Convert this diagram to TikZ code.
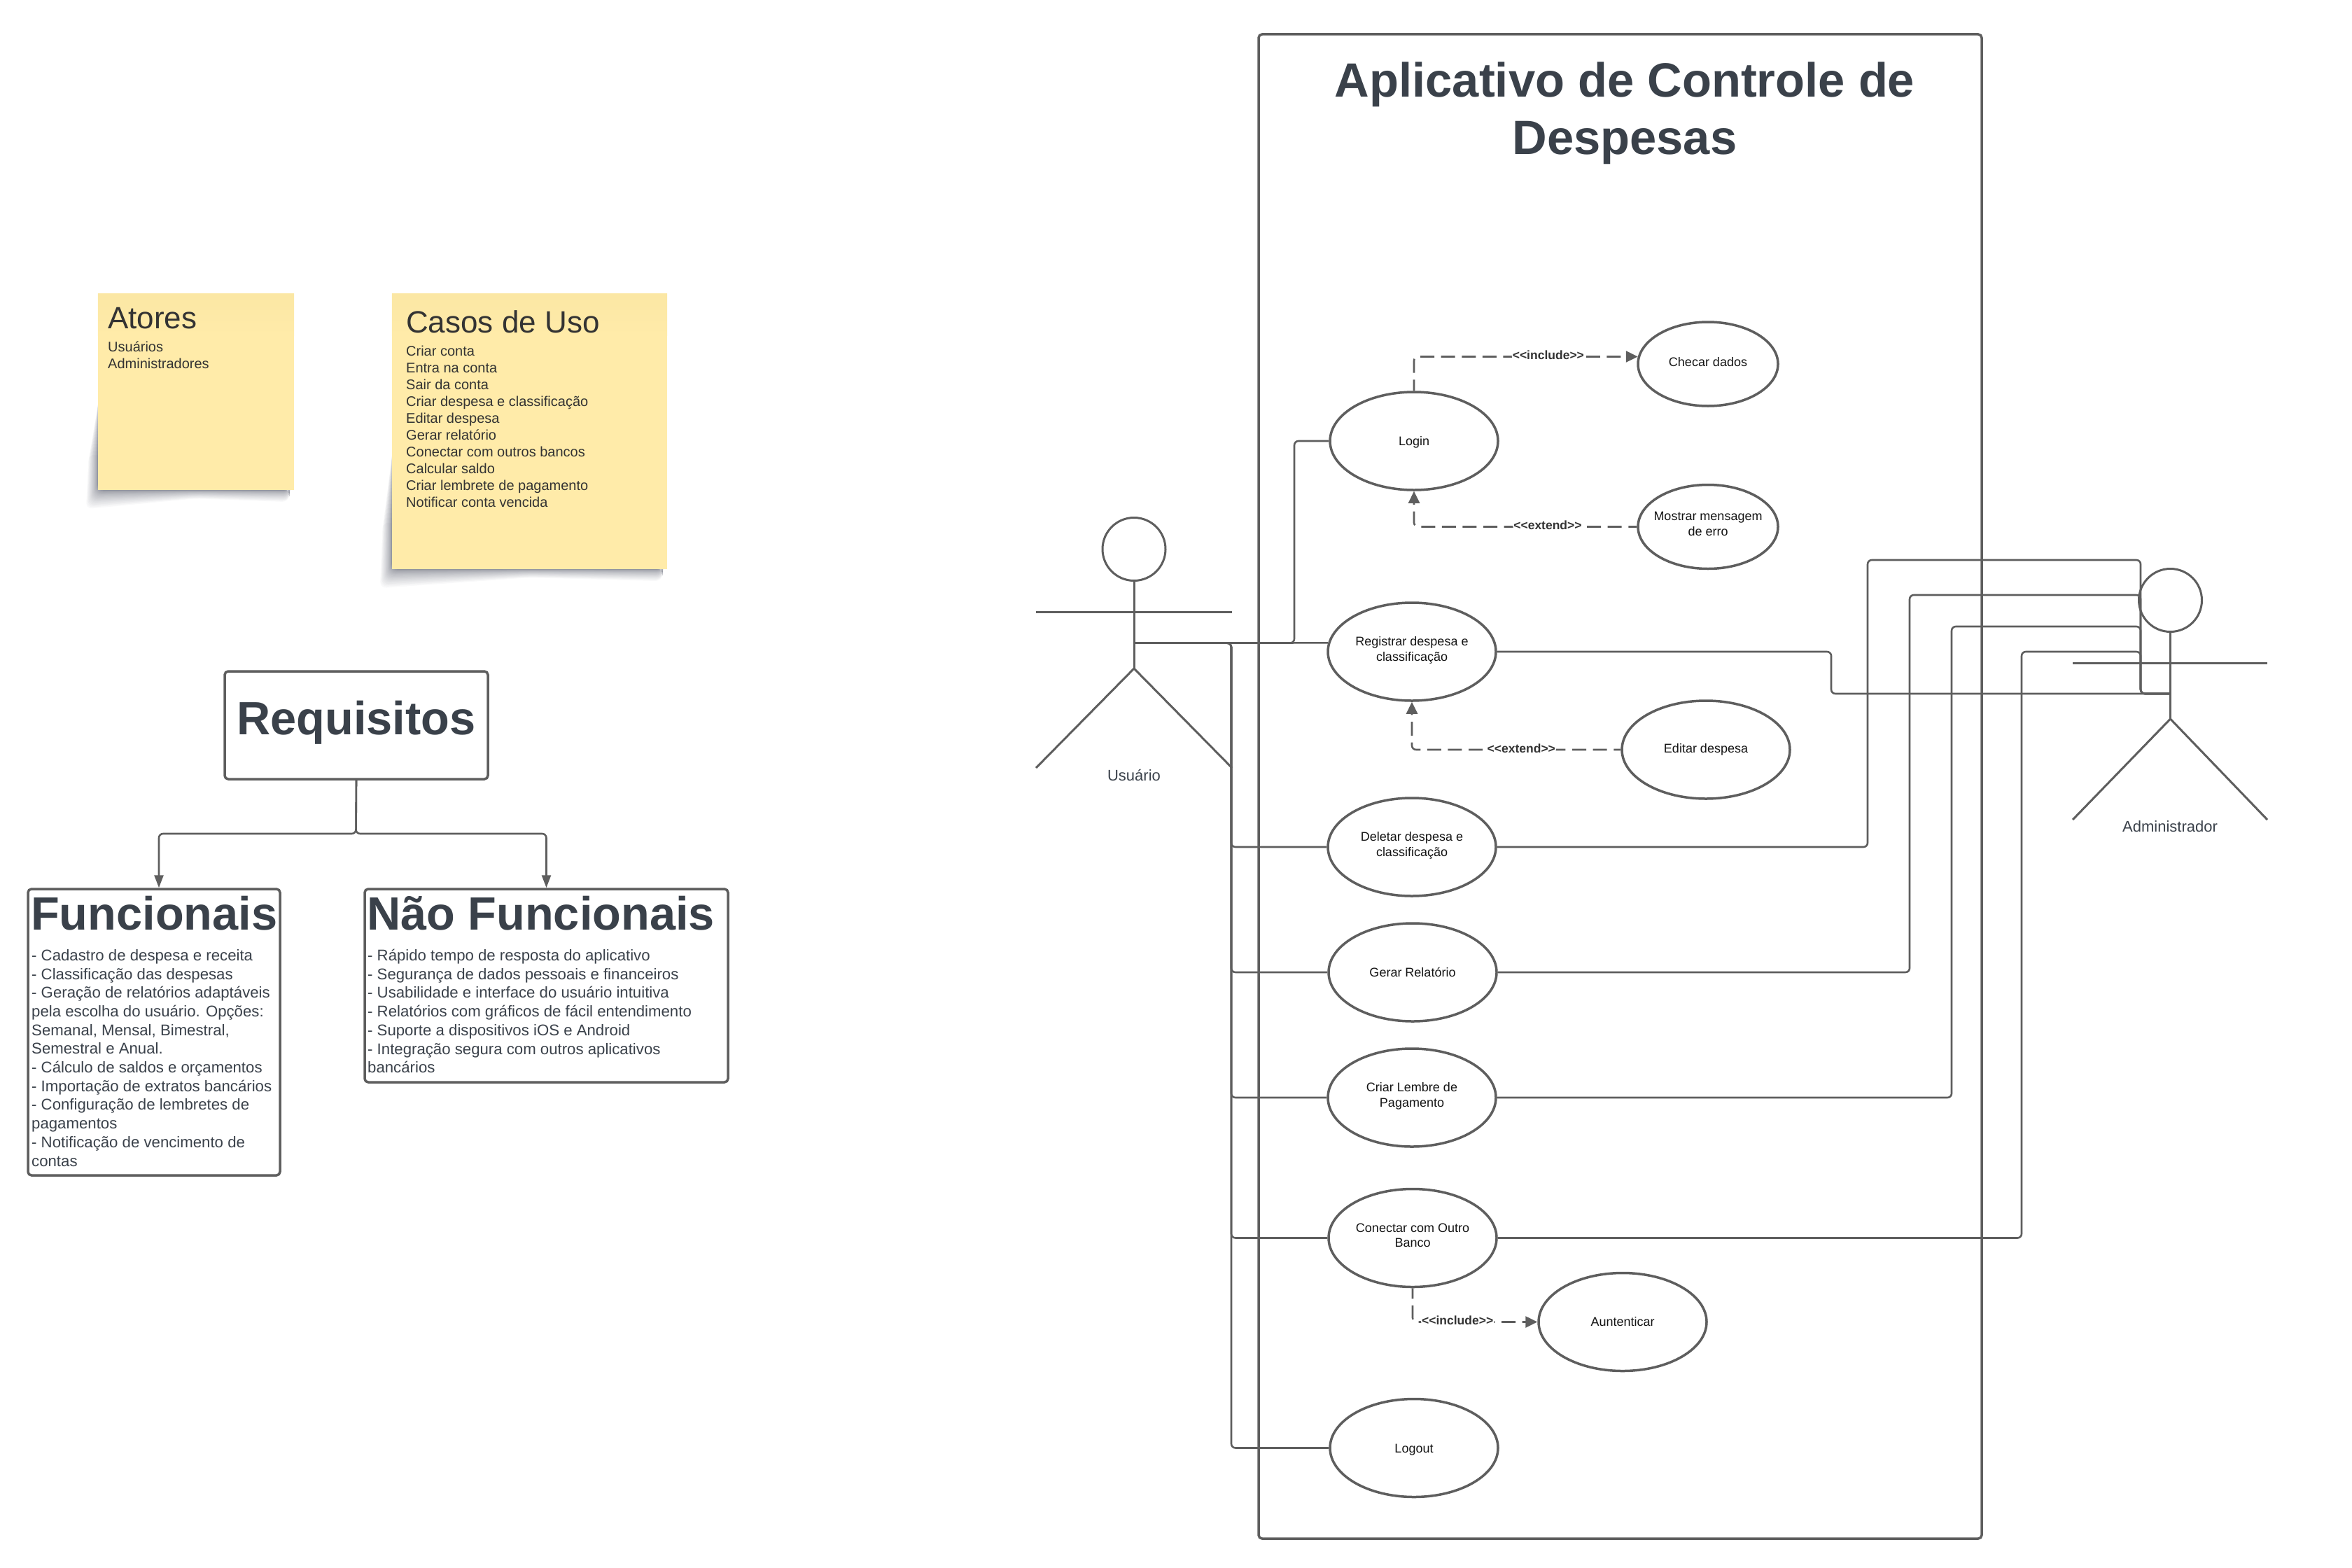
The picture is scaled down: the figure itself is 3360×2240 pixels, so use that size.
\documentclass[tikz,border=0pt]{standalone}
\usepackage{fontspec}
\setmainfont{Liberation Sans}
\usetikzlibrary{arrows.meta, positioning, shapes.geometric, backgrounds}
\definecolor{linegray}{HTML}{5E5E5E}
\definecolor{inktext}{HTML}{3A414A}
\definecolor{notetext}{HTML}{333333}
\definecolor{notelight}{HTML}{FFEBA9}
\definecolor{notedark}{HTML}{FBE7A4}
\definecolor{shadowtint}{HTML}{2F3345}
\newcommand{\lift}{\rule[-8pt]{0pt}{8pt}}
\newcommand{\drop}{\rule{0pt}{17pt}}
\newcommand{\noteshadow}[2]{\foreach \s [evaluate=\s as \t using {(1-\s/30)^2.2}] in {0,...,29}
  \fill[shadowtint, opacity=.028, rounded corners=9pt] ([shift={(-13*\t,{-#2*(1-.6*\t)})}]#1.south west) -- ([shift={(-17*\t,27*\t)}]#1.south west) -- ([shift={(0,12*\t)}]#1.south) -- ([shift={(-6-2*\t,17*\t)}]#1.south east) -- ([xshift=-6pt]#1.south east) -- cycle;}
\newcommand{\notetop}[1]{\fill[top color=notedark, bottom color=notelight] (#1.north west) rectangle ([yshift=-60pt]#1.north east);}
\tikzset{
  note/.style={fill=notelight, inner sep=0pt},
  notehead/.style={text=notetext, inner sep=0pt, font=\fontsize{44}{53}\selectfont},
  notebody/.style={text=notetext, inner sep=0pt, align=left, font=\fontsize{20}{24}\selectfont},
  reqbox/.style={draw=linegray, line width=3.5pt, rounded corners=5pt, fill=white, inner sep=0pt},
  reqhead/.style={text=inktext, inner sep=0pt, font=\fontsize{66.7}{80}\selectfont\bfseries},
  reqbody/.style={text=inktext, inner sep=0pt, align=left, font=\fontsize{22.2}{26.7}\selectfont},
  usecase/.style={draw=linegray, line width=3.5pt, ellipse, minimum width=240pt, minimum height=140pt, inner xsep=-10pt, inner ysep=0pt, align=center, text=black!92, font=\fontsize{18}{21.6}\selectfont},
  smallcase/.style={usecase, minimum width=200pt, minimum height=120pt},
  limb/.style={draw=linegray, line width=3pt},
  actorname/.style={text=inktext, inner sep=0pt, font=\fontsize{22}{26}\selectfont},
  wire/.style={draw=linegray, line width=2.6pt, rounded corners=6pt},
  depend/.style={wire, dash pattern=on 20pt off 9.6pt, dash phase=#1, -{Triangle[length=17pt, width=16pt]}},
  dashlabel/.style={fill=white, inner sep=1pt, text=notetext, font=\fontsize{17.5}{21}\selectfont\bfseries, yshift=2pt},
  reqarrow/.style={wire, -{Triangle[length=18pt, width=13pt]}}
}
\begin{document}
\begin{tikzpicture}[x=1pt, y=-1pt]
\useasboundingbox (0,0) rectangle (3360,2240);

\node[note, minimum width=280pt, minimum height=280pt] (atores) at (280,560) {};
\node[note, minimum width=393pt, minimum height=393pt] (casos) at (756.5,616.5) {};
\begin{scope}[on background layer]
\noteshadow{atores}{130}
\noteshadow{casos}{170}
\end{scope}
\notetop{atores}
\notetop{casos}
\node[notehead, anchor=base west] (atorestitle) at (154,469) {Atores};
\node[notebody, anchor=north west] (atoreslist) at (154,488) {Usuários\\Administradores};
\node[notehead, anchor=base west] (casostitle) at (580,475) {Casos de Uso};
\node[notebody, anchor=north west] (casoslist) at (580,494) {Criar conta\\Entra na conta\\Sair da conta\\Criar despesa e classificação\\Editar despesa\\Gerar relatório\\Conectar com outros bancos\\Calcular saldo\\Criar lembrete de pagamento\\Notificar conta vencida};

\node[reqbox, minimum width=376pt, minimum height=154pt] (req) at (509,1036) {};
\node[reqhead, anchor=base] (reqtitle) at (509,1049) {Requisitos};
\node[reqbox, minimum width=360pt, minimum height=409pt] (fun) at (220,1474.5) {};
\node[reqhead, anchor=base west] (funtitle) at (44,1328) {Funcionais};
\node[reqbody, anchor=north west] (funlist) at (45,1356) {- Cadastro de despesa e receita\\- Classificação das despesas\\- Geração de relatórios adaptáveis\\pela escolha do usuário. Opções:\\Semanal, Mensal, Bimestral,\\Semestral e Anual.\\- Cálculo de saldos e orçamentos\\- Importação de extratos bancários\\- Configuração de lembretes de\\pagamentos\\- Notificação de vencimento de\\contas};
\node[reqbox, minimum width=519pt, minimum height=276pt] (nfun) at (780.5,1408) {};
\node[reqhead, anchor=base west] (nfuntitle) at (524,1328) {Não Funcionais};
\node[reqbody, anchor=north west] (nfunlist) at (525,1356) {- Rápido tempo de resposta do aplicativo\\- Segurança de dados pessoais e financeiros\\- Usabilidade e interface do usuário intuitiva\\- Relatórios com gráficos de fácil entendimento\\- Suporte a dispositivos iOS e Android\\- Integração segura com outros aplicativos\\bancários};

\coordinate (split) at (508.5,1191);
\draw[reqarrow] (req.south) -- (split) -| ([xshift=7pt]fun.north);
\draw[reqarrow] (req.south) -- (split) -| (nfun.north);

\node[draw=linegray, line width=3.5pt, rounded corners=5pt, minimum width=1033pt, minimum height=2149pt, inner sep=0pt] (system) at (2314.5,1123.5) {};
\node[inner sep=0pt, align=center, text=inktext, font=\fontsize{68.7}{81.6}\selectfont\bfseries, anchor=north] (systemtitle) at (2321,89) {Aplicativo de Controle de\\Despesas};

\node[usecase] (login) at (2020,630) {\drop Login};
\node[smallcase] (checar) at (2440,520) {Checar dados\rule[-7pt]{0pt}{7pt}};
\node[smallcase] (mostrar) at (2440,752.5) {Mostrar mensagem\\de erro\lift};
\node[usecase] (registrar) at (2017,931) {Registrar despesa e\\classificação\lift};
\node[usecase] (editar) at (2437,1071) {Editar despesa};
\node[usecase] (deletar) at (2017,1210) {Deletar despesa e\\classificação\lift};
\node[usecase] (gerar) at (2018,1389) {Gerar Relatório};
\node[usecase] (criar) at (2017,1568) {Criar Lembre de\\Pagamento\lift};
\node[usecase] (conectar) at (2018,1768.5) {Conectar com Outro\\Banco\lift};
\node[usecase] (autenticar) at (2318,1888.5) {Auntenticar};
\node[usecase] (logout) at (2020,2068.5) {\drop Logout};

\node[limb, circle, minimum size=90pt, inner sep=0pt] (usrhead) at (1620,784.5) {};
\coordinate (usrhip) at (1620,955);
\draw[limb] (usrhead.south) -- (usrhip);
\draw[limb] (1480,874) -- (1760,874);
\draw[limb] (1480,1097) -- (usrhip) -- (1760,1097);
\node[actorname, anchor=base] (usrname) at (1620,1115) {Usuário};

\node[limb, circle, minimum size=90pt, inner sep=0pt] (admhead) at (3100.5,857.5) {};
\coordinate (admhip) at (3100.5,1027);
\draw[limb] (admhead.south) -- (admhip);
\draw[limb] (2961,947) -- (3239,947);
\draw[limb] (2961,1171) -- (admhip) -- (3239,1171);
\node[actorname, anchor=base] (admname) at (3100,1188) {Administrador};

\coordinate (usrhub) at (1620,918.6);
\coordinate (usrbus) at (1759,918.6);
\coordinate (lgnbus) at (1849,630);
\draw[wire] (usrhub) -- (registrar.174);
\draw[wire] (usrhub) -| (lgnbus) -- (login.west);
\foreach \uc in {deletar, gerar, criar, conectar, logout}
  \draw[wire] (usrhub) -- (usrbus) |- (\uc.west);

\coordinate (admhub) at (3100,991);
\coordinate (admturn) at (3058,991);
\coordinate (busreg) at (2616,991);
\coordinate (busdel) at (2668,800);
\coordinate (busger) at (2728,850);
\coordinate (buscri) at (2788,895);
\coordinate (buscon) at (2888,931);
\draw[wire] (registrar.east) -| (busreg) -- (admhub);
\foreach \uc/\bus in {deletar/busdel, gerar/busger, criar/buscri, conectar/buscon}
  \draw[wire] (\uc.east) -| (\bus) -| (admturn) -- (admhub);

\draw[depend=4pt] (login.north) |- node[dashlabel, pos=.8] (inclabela) {<{}<include>{}>} (checar.174);
\draw[depend=8pt] (mostrar.west) -| node[dashlabel, pos=.2] (extlabela) {<{}<extend>{}>} (login.south);
\draw[depend=10pt] (editar.west) -| node[dashlabel, pos=.238] (extlabelb) {<{}<extend>{}>} (registrar.south);
\draw[depend=5pt] (conectar.south) |- node[dashlabel, pos=.68] (inclabelb) {<{}<include>{}>} (autenticar.west);
\end{tikzpicture}
\end{document}
